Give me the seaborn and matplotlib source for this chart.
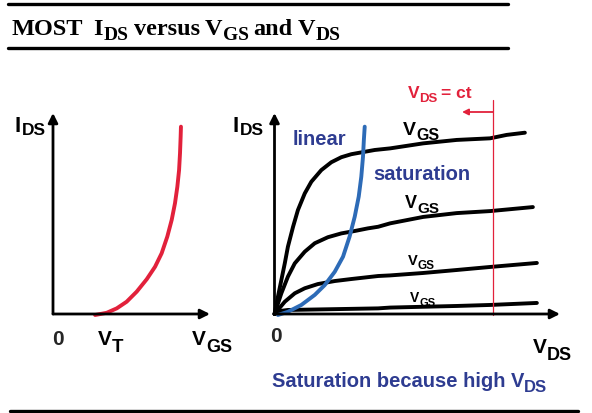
import numpy as np
import pandas as pd
import matplotlib
matplotlib.use("Agg")
import matplotlib.pyplot as plt
from matplotlib.lines import Line2D
import seaborn as sns

# left plot: transfer curve IDS(VGS), relative units (axis = 0..1)
vgs_pts = [0.268, 0.342, 0.406, 0.469, 0.533, 0.597, 0.650, 0.692, 0.728, 0.756,
           0.777, 0.792, 0.803, 0.809, 0.813, 0.815]
ids_transfer = [-0.005, 0.006, 0.028, 0.061, 0.111, 0.173, 0.235, 0.302, 0.385, 0.468,
                0.551, 0.633, 0.716, 0.800, 0.882, 0.932]

# right plot: output curves IDS(VDS) for four VGS values (axis = 0..10)
vds_1 = [0, 0.12, 0.24, 0.36, 0.47, 0.65, 0.82, 1.06, 1.29, 1.64, 1.99, 2.34, 2.69,
         3.04, 3.51, 4.05, 5.21, 6.38, 7.55, 8.13, 8.77]
ids_1 = [0, 0.86, 1.69, 2.52, 3.35, 4.34, 5.17, 6.00, 6.58, 7.16, 7.55, 7.80, 7.95,
         8.04, 8.16, 8.24, 8.49, 8.66, 8.74, 8.91, 9.02]
vds_2 = [0, 0.24, 0.47, 0.71, 1.06, 1.41, 1.87, 2.34, 2.81, 3.27, 3.63, 4.05, 5.21,
         6.38, 7.55, 9.05]
ids_2 = [0, 1.03, 1.86, 2.52, 3.10, 3.52, 3.82, 4.01, 4.13, 4.26, 4.34, 4.51, 4.83,
         5.02, 5.12, 5.32]
vds_3 = [0, 0.36, 0.71, 1.06, 1.52, 2.11, 2.69, 3.63, 4.05, 5.20, 6.39, 7.55, 9.19]
ids_3 = [0, 0.61, 1.03, 1.28, 1.49, 1.64, 1.74, 1.89, 1.92, 2.04, 2.19, 2.34, 2.54]
vds_4 = [0, 0.19, 0.47, 3.63, 4.05, 6.39, 7.55, 9.19]
ids_4 = [0, 0.15, 0.20, 0.28, 0.32, 0.40, 0.45, 0.55]

# boundary between linear and saturation region
vds_sat = [0.12, 0.47, 0.94, 1.41, 1.76, 2.11, 2.40, 2.63, 2.81, 2.95, 3.04, 3.10,
           3.13, 3.16]
ids_sat = [-0.05, 0.11, 0.45, 0.95, 1.44, 2.10, 2.85, 3.85, 4.84, 5.84, 6.83, 7.83,
           8.66, 9.32]

vds_ct = 7.65

RED = "#e2213b"
BLUE = "#2d6bb7"
NAVY = "#2e3c91"

sns.set_style("white")
plt.rcParams["font.family"] = ["Liberation Sans", "DejaVu Sans"]

W, H = 592, 413
fig = plt.figure(figsize=(W / 100, H / 100), dpi=100)
fig.patch.set_facecolor("white")
renderer = fig.canvas.get_renderer()


def label(x, y, pieces, color="black", family="Liberation Sans"):
    # pieces: (text, size, baseline shift in px, gap after in px); x, y in pixels
    for s, size, dy, gap in pieces:
        t = fig.text(x / W, 1 - (y + dy) / H, s, fontsize=size, fontweight="bold",
                     family=family, color=color, ha="left", va="baseline")
        x += t.get_window_extent(renderer).width + gap


# horizontal rules
for y, x0, x1 in [(4, 8, 508), (48, 8, 508), (411, 10, 578)]:
    fig.add_artist(Line2D([x0 / W, x1 / W], [1 - y / H, 1 - y / H], color="black", lw=2.4))

label(12, 35, [("MOST", 17.5, 0, 10), ("I", 17.5, 0, 1), ("DS", 14, 4.5, 5),
               ("versus", 17.5, 0, 5), ("V", 17.5, 0, 0), ("GS", 14, 4.5, 5),
               ("and", 17.5, 0, 5), ("V", 17.5, 0, 0), ("DS", 14, 4.5, 0)],
      family="Liberation Serif")

arrow = dict(arrowstyle="-|>", lw=2.0, color="black", mutation_scale=14, shrinkA=0, shrinkB=0)

# ---- left panel
axL = fig.add_axes([53 / W, 1 - 314 / H, 157 / W, 201 / H])
axL.set_xlim(0, 1)
axL.set_ylim(0, 1)
axL.axis("off")
axL.annotate("", xy=(1, 0), xytext=(0, 0), arrowprops=arrow)
axL.annotate("", xy=(0, 1), xytext=(0, 0), arrowprops=arrow)
sns.lineplot(x=vgs_pts, y=ids_transfer, ax=axL, color=RED, lw=2.8, sort=False,
             estimator=None, clip_on=False)

# ---- right panel
axR = fig.add_axes([274.5 / W, 1 - 314 / H, 285.5 / W, 201 / H])
axR.set_xlim(0, 10)
axR.set_ylim(0, 10)
axR.axis("off")
axR.annotate("", xy=(10, 0), xytext=(0, 0), arrowprops=arrow)
axR.annotate("", xy=(0, 10), xytext=(0, 0), arrowprops=arrow)

for vx, iy in [(vds_1, ids_1), (vds_2, ids_2), (vds_3, ids_3), (vds_4, ids_4)]:
    sns.lineplot(x=vx, y=iy, ax=axR, color="black", lw=2.8, sort=False,
                 estimator=None, clip_on=False)
sns.lineplot(x=vds_sat, y=ids_sat, ax=axR, color=BLUE, lw=2.8, sort=False,
             estimator=None, clip_on=False)

axR.plot([vds_ct, vds_ct], [-0.05, 10.65], color=RED, lw=0.9, clip_on=False)
axR.annotate("", xy=(vds_ct - 1.08, 10.05), xytext=(vds_ct, 10.05),
             arrowprops=dict(arrowstyle="-|>", lw=1.3, color=RED, mutation_scale=9,
                             shrinkA=0, shrinkB=0), annotation_clip=False)

# ---- labels (pixel positions)
label(15, 132, [("I", 16, 0, 0.5), ("DS", 12.5, 3, 0)])
label(233, 132, [("I", 16, 0, 0.5), ("DS", 12.5, 3, 0)])
fig.text(57.5 / W, 1 - 345 / H, "0", fontsize=15, fontweight="bold", ha="center", va="baseline")
fig.text(276 / W, 1 - 342 / H, "0", fontsize=15, fontweight="bold", ha="center", va="baseline")
label(98, 345, [("V", 15, 0, 0), ("T", 13.5, 7, 0)])
label(192, 345, [("V", 15, 0, 0), ("GS", 13, 7, 0)])
label(533, 353, [("V", 15, 0, 0), ("DS", 13, 7, 0)])

label(403, 135, [("V", 14, 0, 0), ("GS", 11.5, 5, 0)])
label(405, 208, [("V", 13, 0, 0), ("GS", 11, 5, 0)])
label(408, 265, [("V", 10.5, 0, 0), ("GS", 8.5, 4, 0)])
label(410, 302, [("V", 10, 0, 0), ("GS", 8, 3.5, 0)])

label(408, 98, [("V", 12.5, 0, 0), ("DS", 9.5, 4.5, 3), ("= ct", 12.5, 0, 0)], color=RED)
label(293, 145, [("linear", 14.5, 0, 0)], color=NAVY)
label(373, 180, [("saturation", 14.5, 0, 0)], color=NAVY)
label(272, 387, [("Saturation because high", 14.5, 0, 5), ("V", 14.5, 0, 0),
                 ("DS", 12, 5, 0)], color=NAVY)

fig.savefig("out.png", dpi=100, facecolor="white")
